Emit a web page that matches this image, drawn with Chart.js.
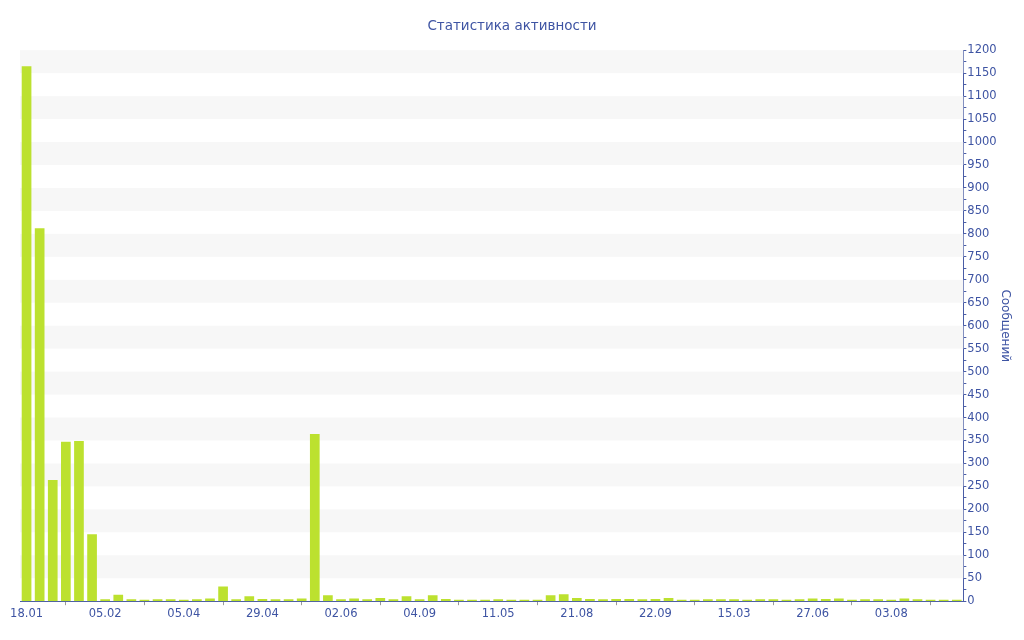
<!DOCTYPE html>
<html>
<head>
<meta charset="utf-8">
<script src="https://cdn.jsdelivr.net/npm/chart.js@4/dist/chart.umd.min.js"></script>
<style>
  html, body { margin: 0; padding: 0; background: #fff; }
  #wrap { width: 1024px; height: 640px; }
</style>
</head>
<body>
<div id="wrap"><canvas id="activityChart" width="1024" height="640"></canvas></div>
<script>
// tick labels shown every 6th bar
const tickLabels = ["18.01", "05.02", "05.04", "29.04", "02.06", "04.09",
                    "11.05", "21.08", "22.09", "15.03", "27.06", "03.08"];
const tickEvery = 6;

// messages per bar
const messages = [
  1165, 812, 264, 347, 349, 146, 4, 14, 4, 3, 4, 4,
  3, 4, 6, 32, 4, 11, 5, 4, 4, 6, 364, 13,
  4, 6, 4, 7, 4, 11, 4, 13, 5, 3, 3, 3,
  4, 3, 3, 3, 13, 15, 7, 5, 4, 5, 5, 4,
  5, 7, 3, 3, 4, 4, 4, 3, 4, 4, 3, 4,
  6, 5, 6, 3, 4, 4, 3, 6, 4, 3, 3, 3
];

const categories = messages.map((v, i) => i % tickEvery === 0 ? tickLabels[i / tickEvery] : "");

const axisBlue = "#4a5da6";
const textBlue = "#3e54a3";
const barGreen = "#bce12f";

// alternating horizontal bands every 50 messages
const bandsPlugin = {
  id: "bands",
  beforeDatasetsDraw(chart) {
    const { ctx, chartArea, scales } = chart;
    const y = scales.y;
    ctx.save();
    ctx.fillStyle = "#f7f7f7";
    for (let v = 0; v < 1200; v += 50) {
      if ((v / 50) % 2 === 1) {
        const top = y.getPixelForValue(v + 50);
        const bottom = y.getPixelForValue(v);
        ctx.fillRect(chartArea.left, top, chartArea.right - chartArea.left, bottom - top);
      }
    }
    ctx.restore();
  }
};

Chart.defaults.font.family = "'DejaVu Sans', Verdana, sans-serif";
Chart.defaults.color = textBlue;

new Chart(document.getElementById("activityChart"), {
  type: "bar",
  data: {
    labels: categories,
    datasets: [
      {
        label: "Сообщений",
        data: messages,
        backgroundColor: barGreen,
        barPercentage: 0.74,
        categoryPercentage: 1.0
      }
    ]
  },
  options: {
    responsive: false,
    animation: false,
    layout: { padding: { left: 2, right: 2, top: 0, bottom: 17 } },
    plugins: {
      legend: { display: false },
      tooltip: { enabled: false },
      title: {
        display: true,
        text: "Статистика активности",
        color: textBlue,
        font: { size: 13.5, weight: "normal" },
        padding: { top: 18, bottom: 16 }
      }
    },
    scales: {
      x: {
        offset: true,
        grid: {
          display: true,
          drawOnChartArea: false,
          drawTicks: true,
          tickLength: 4,
          color: "#999999"
        },
        border: { color: axisBlue, width: 1 },
        afterBuildTicks(scale) {
          scale.ticks = scale.ticks.filter(t => t.value % tickEvery === 0);
        },
        ticks: {
          autoSkip: false,
          maxRotation: 0,
          color: textBlue,
          font: { size: 11.5 },
          padding: 2
        }
      },
      // empty left gutter so the title stays centred on the page
      gutter: {
        position: "left",
        display: true,
        grid: { display: false },
        border: { display: false },
        ticks: { display: false },
        afterFit(scale) { scale.width = 18; }
      },
      y: {
        position: "right",
        min: 0,
        max: 1200,
        grid: {
          drawOnChartArea: false,
          drawTicks: true,
          tickLength: 3,
          color: axisBlue
        },
        border: { color: axisBlue, width: 1 },
        ticks: {
          stepSize: 25,
          autoSkip: false,
          color: textBlue,
          font: { size: 11.5 },
          padding: 1,
          callback: v => v % 50 === 0 ? v : ""
        },
        title: {
          display: true,
          text: "Сообщений",
          color: textBlue,
          font: { size: 12 },
          padding: { top: 10, bottom: 0 }
        }
      }
    }
  },
  plugins: [bandsPlugin]
});
</script>
</body>
</html>
